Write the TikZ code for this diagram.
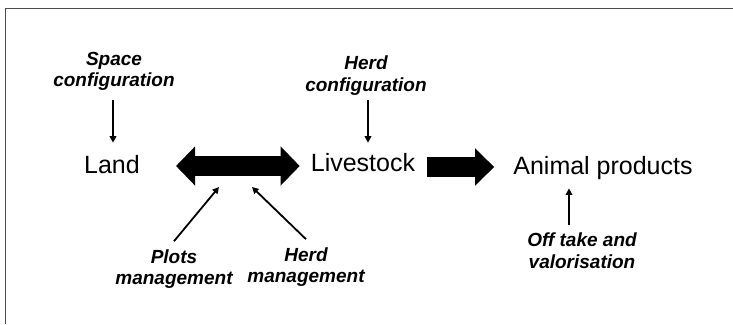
\documentclass[tikz,border=0pt]{standalone}
\usepackage{fontspec}
\setmainfont{Liberation Sans}
\usetikzlibrary{arrows.meta}
\begin{document}
\begin{tikzpicture}[x=1pt,y=-1pt,
  main/.style={inner sep=0pt,font=\fontsize{25}{30}\selectfont,anchor=base},
  lab/.style={inner sep=0pt,align=center,font=\fontsize{19}{21.5}\selectfont\bfseries\itshape},
  arr/.style={line width=1.8pt,-{Triangle[length=6.5pt,width=6.5pt]}},
  fat/.style={line width=20pt},
  frame/.style={draw=black!70,line width=1.8pt}]
\useasboundingbox (0,0) rectangle (733,324);
\fill[white] (0,0) rectangle (733,324);
\draw[frame] (5.5,324) -- (5.5,8.5) -- (733,8.5);
% main nodes
\node[main] (land) at (112,173) {Land};
\node[main] (ls) at (363,171) {Livestock};
\node[main] (ap) at (603,174) {Animal products};
% labels
\node[lab] (sc) at (114,71.5) {Space\\configuration};
\node[lab] (hc) at (366,75.5) {Herd\\configuration};
\node[lab] (pm) at (174,269) {Plots\\management};
\node[lab] (hm) at (306,267) {Herd\\management};
\node[lab] (ot) at (582,250.5) {Off take and\\valorisation};
% fat arrows
\draw[fat,{Triangle[length=19pt,width=38pt]}-{Triangle[length=19pt,width=38pt]},
  shorten <=36pt, shorten >=11pt] (land.east |- 0,166) -- (ls.west |- 0,166);
\draw[fat,-{Triangle[length=19pt,width=36pt]},
  shorten <=12pt, shorten >=19pt] (ls.east |- 0,167) -- (ap.west |- 0,167);
% thin arrows
\draw[arr, shorten <=9pt, shorten >=12pt] ([xshift=-1pt]sc.south) -- ([xshift=-1pt]sc.south |- land.north);
\draw[arr, shorten <=5pt, shorten >=10pt] ([xshift=2pt]hc.south) -- ([xshift=2pt]hc.south |- ls.north);
\draw[arr, shorten <=8pt, shorten >=9pt] ([xshift=-13pt]ot.north) -- ([xshift=-13pt]ot.north |- ap.south);
\coordinate (pmtip) at (219,187);
\coordinate (hmtip) at (252,187);
\draw[arr] ([yshift=8pt]pm.north) -- (pmtip);
\draw[arr] ([yshift=8pt]hm.north) -- (hmtip);
\end{tikzpicture}
\end{document}
